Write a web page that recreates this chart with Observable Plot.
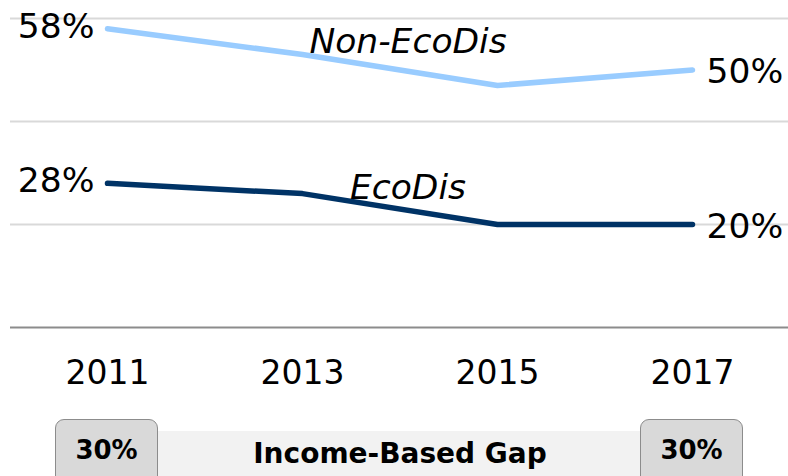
<!DOCTYPE html>
<html>
<head>
<meta charset="utf-8">
<script src="https://cdn.jsdelivr.net/npm/d3@7"></script>
<script src="https://cdn.jsdelivr.net/npm/@observablehq/plot@0.6"></script>
<style>
  html, body { margin: 0; padding: 0; background: #fff; overflow: hidden; }
  #wrap { position: relative; width: 788px; height: 476px; font-family: "DejaVu Sans", Verdana, sans-serif; }
  #chart { position: absolute; left: 0; top: 0; }
  .band { position: absolute; left: 150px; top: 431px; width: 500px; height: 60px; background: #f2f2f2; }
  .band span { position: absolute; left: 0; right: 0; top: 6px; text-align: center; font-weight: bold; font-size: 28px; color: #000; }
  .gapbox { position: absolute; top: 419px; width: 103px; height: 70px; background: #d9d9d9; border: 1.5px solid #8c8c8c; border-radius: 9px; box-sizing: border-box; }
  .gapbox span { position: absolute; left: 0; right: 0; top: 15px; text-align: center; font-weight: bold; font-size: 26px; color: #000; }
</style>
</head>
<body>
<div id="wrap">
  <div id="chart"></div>
</div>
<script>
const years = [2011, 2013, 2015, 2017];
const nonEcoDis = [58, 53, 47, 50];
const ecoDis = [28, 26, 20, 20];
const seriesNames = ["Non-EcoDis", "EcoDis"];
const seriesColors = ["#99ccff", "#003366"];
const seriesLabelX = [2014, 2014];
const seriesLabelY = [55.5, 27];
const gridValues = [20, 40, 60];
const gapLabel = "Income-Based Gap";
const gapValues = ["30%", "30%"];

const rows = [];
[nonEcoDis, ecoDis].forEach((vals, i) => {
  years.forEach((yr, j) => rows.push({series: seriesNames[i], year: yr, value: vals[j]}));
});
const firsts = rows.filter(d => d.year === years[0]);
const lasts = rows.filter(d => d.year === years[years.length - 1]);
const labels = seriesNames.map((s, i) => ({series: s, x: seriesLabelX[i], y: seriesLabelY[i]}));

const font = "DejaVu Sans, Verdana, sans-serif";

const plot = Plot.plot({
  width: 788,
  height: 476,
  marginLeft: 107,
  marginRight: 96,
  marginTop: 18,
  marginBottom: 149,
  style: {fontFamily: font, background: "transparent", overflow: "visible"},
  x: {domain: [2011, 2017], ticks: years, tickFormat: d => String(d), label: null},
  y: {domain: [0, 60], axis: null},
  color: {domain: seriesNames, range: seriesColors},
  marks: [
    Plot.ruleY(gridValues, {stroke: "#d9d9d9", strokeWidth: 2, insetLeft: -97, insetRight: -96}),
    Plot.ruleY([0], {stroke: "#8c8c8c", strokeWidth: 2, insetLeft: -97, insetRight: -96}),
    Plot.axisX({ticks: years, tickFormat: d => String(d), tickSize: 0, tickPadding: 33, fontSize: 33, fill: "#000", label: null}),
    Plot.line(rows, {x: "year", y: "value", z: "series", stroke: "series", strokeWidth: 5.5, strokeLinecap: "round", strokeLinejoin: "round"}),
    Plot.text(firsts, {x: "year", y: "value", text: d => d.value + "%", textAnchor: "end", dx: -13, dy: -2, fontSize: 34.5, fill: "#000"}),
    Plot.text(lasts, {x: "year", y: "value", text: d => d.value + "%", textAnchor: "start", dx: 14, dy: 2, fontSize: 34.5, fill: "#000"}),
    Plot.text(labels, {x: "x", y: "y", text: "series", fontStyle: "italic", fontSize: 34.5, fill: "#000", dx: 8})
  ]
});
document.getElementById("chart").appendChild(plot);

const wrap = document.getElementById("wrap");
const band = document.createElement("div");
band.className = "band";
band.innerHTML = `<span>${gapLabel}</span>`;
wrap.appendChild(band);
[55, 640].forEach((left, i) => {
  const b = document.createElement("div");
  b.className = "gapbox";
  b.style.left = left + "px";
  b.innerHTML = `<span>${gapValues[i]}</span>`;
  wrap.appendChild(b);
});
</script>
</body>
</html>
